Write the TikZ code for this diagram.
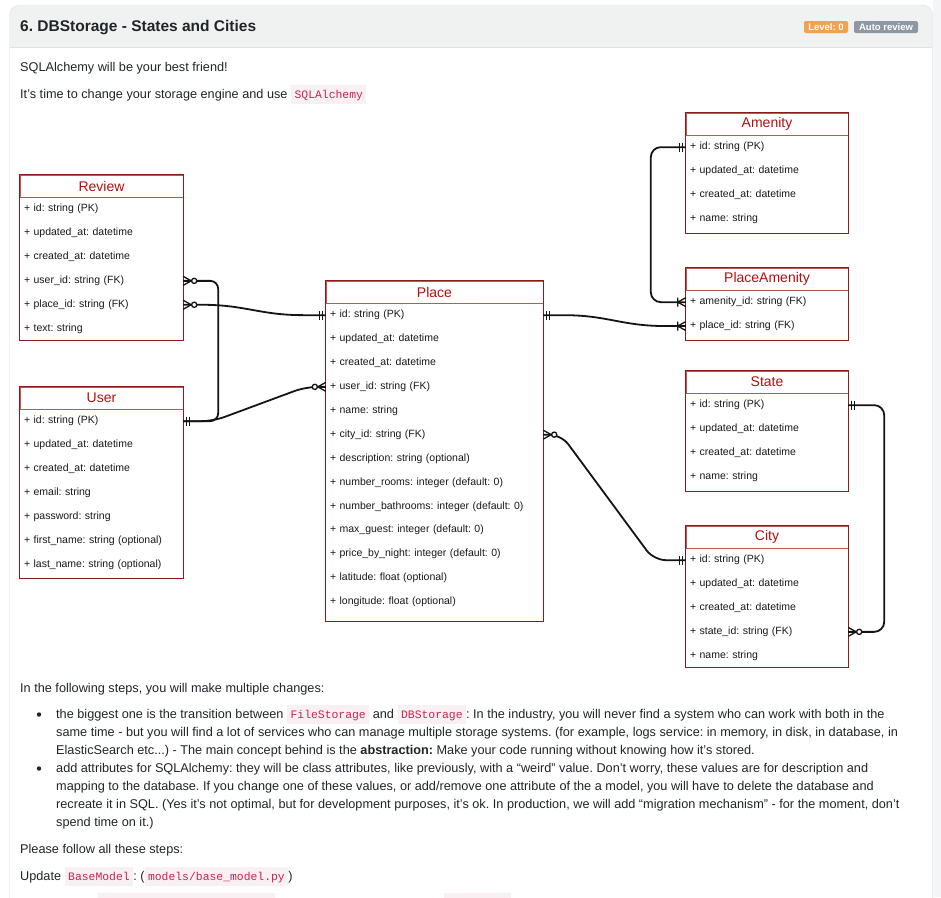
\documentclass[tikz,border=0pt]{standalone}
\usepackage{fontspec}
\setmainfont{Liberation Sans}
\newfontfamily\codefont{Liberation Mono}
\usetikzlibrary{positioning,fit,calc}
\frenchspacing

\definecolor{boxline}{RGB}{140,26,26}
\definecolor{sepline}{RGB}{196,84,84}
\definecolor{titlered}{RGB}{178,16,16}
\definecolor{rowtext}{RGB}{25,25,25}
\definecolor{linecol}{RGB}{20,20,20}
\definecolor{headgray}{RGB}{240,241,241}
\definecolor{cardline}{RGB}{224,226,228}
\definecolor{pagegray}{RGB}{244,245,246}
\definecolor{bodycol}{RGB}{33,37,41}
\definecolor{codebg}{RGB}{249,240,243}
\definecolor{codefg}{RGB}{199,37,78}
\definecolor{lvlorange}{RGB}{240,163,76}
\definecolor{autogray}{RGB}{142,152,163}

\newcommand{\inlinecode}[1]{{\setlength{\fboxsep}{0pt}\colorbox{codebg}{\rule[-5.5pt]{0pt}{19pt}\hspace{3.5pt}\textcolor{codefg}{\codefont\fontsize{11.4}{13}\selectfont #1}\hspace{3.5pt}}}}

\tikzset{
  entity/.style={draw=sepline, minimum width=#1, minimum height=22pt, inner sep=0pt,
    font=\fontsize{14}{16}\selectfont, text=titlered},
  attr/.style={minimum height=23.5pt, text width=#1, inner xsep=4pt, inner ysep=0pt,
    align=left, font=\fontsize{10.5}{12}\selectfont, text=rowtext},
  entframe/.style={draw=boxline, line width=0.9pt, inner sep=0pt},
  rel/.style={draw=linecol, line width=1.8pt},
  crow/.style={draw=linecol, line width=1.3pt},
  onlyone/.pic={\draw[crow] (3,-4.5) -- (3,4.5) (6,-4.5) -- (6,4.5);},
  zeromany/.pic={\draw[crow] (0,-4.5) -- (8,0) -- (0,4.5); \draw[crow, fill=white] (11,0) circle (2.6pt);},
  onemany/.pic={\draw[crow] (0,-4.5) -- (8,0) -- (0,4.5) (8,-4.5) -- (8,4.5);},
  bodytext/.style={anchor=base west, inner sep=0pt, font=\fontsize{12.7}{15}\selectfont, text=bodycol},
  bullet/.style={circle, fill=bodycol, inner sep=0pt, minimum size=4.4pt},
  badge/.style={fill=#1, rounded corners=2pt, text=white, font=\bfseries\fontsize{9.5}{11}\selectfont,
    minimum height=12pt, inner sep=0pt}
}

\begin{document}
\begin{tikzpicture}[x=1pt, y=-1pt]
    \useasboundingbox (0,0) rectangle (941,897);
    \clip (0,0) rectangle (941,897);

    % page and card
    \fill[white] (0,0) rectangle (941,897);
    \fill[pagegray] (933,0) rectangle (941,897);
    \draw[cardline, fill=headgray, rounded corners=10pt] (9.5,950) rectangle (932.5,5);
    \fill[white] (10,47.5) rectangle (932,950);
    \draw[cardline] (10,47.5) -- (932,47.5);

    \node[anchor=base west, inner sep=0pt, font=\bfseries\fontsize{15.5}{18}\selectfont, text=bodycol] (title) at (20,31.5) {6. DBStorage - States and Cities};
    \node[badge=lvlorange, minimum width=44pt] (level) at (826,27) {Level: 0};
    \node[badge=autogray, minimum width=64pt] (auto) at (886,27) {Auto review};

    \node[bodytext] (intro1) at (20,71.5) {SQLAlchemy will be your best friend!};
    \node[bodytext] (intro2) at (20,98.5) {It’s time to change your storage engine and use \inlinecode{SQLAlchemy}};

    % Review
    \node[entity=163pt] (revT) at (101.5,186) {Review};
    \node[attr=155pt, below=0pt of revT] (rev1) {+ id: string (PK)};
    \node[attr=155pt, below=0pt of rev1] (rev2) {+ updated\_at: datetime};
    \node[attr=155pt, below=0pt of rev2] (rev3) {+ created\_at: datetime};
    \node[attr=155pt, below=0pt of rev3] (rev4) {+ user\_id: string (FK)};
    \node[attr=155pt, below=0pt of rev4] (rev5) {+ place\_id: string (FK)};
    \node[attr=155pt, below=0pt of rev5] (rev6) {+ text: string};
    \node[entframe, fit=(revT)(rev6)] (review) {};

    % User
    \node[entity=163pt] (usrT) at (101.5,398) {User};
    \node[attr=155pt, below=0pt of usrT] (usr1) {+ id: string (PK)};
    \node[attr=155pt, below=0pt of usr1] (usr2) {+ updated\_at: datetime};
    \node[attr=155pt, below=0pt of usr2] (usr3) {+ created\_at: datetime};
    \node[attr=155pt, below=0pt of usr3] (usr4) {+ email: string};
    \node[attr=155pt, below=0pt of usr4] (usr5) {+ password: string};
    \node[attr=155pt, below=0pt of usr5] (usr6) {+ first\_name: string (optional)};
    \node[attr=155pt, below=0pt of usr6] (usr7) {+ last\_name: string (optional)};
    \coordinate (usrEnd) at ($(usr7.south)+(0,1.5)$);
    \node[entframe, fit=(usrT)(usr7)(usrEnd)] (user) {};

    % Place
    \node[entity=217pt] (plcT) at (434.5,292) {Place};
    \node[attr=209pt, below=0pt of plcT] (plc1) {+ id: string (PK)};
    \node[attr=209pt, below=0pt of plc1] (plc2) {+ updated\_at: datetime};
    \node[attr=209pt, below=0pt of plc2] (plc3) {+ created\_at: datetime};
    \node[attr=209pt, below=0pt of plc3] (plc4) {+ user\_id: string (FK)};
    \node[attr=209pt, below=0pt of plc4] (plc5) {+ name: string};
    \node[attr=209pt, below=0pt of plc5] (plc6) {+ city\_id: string (FK)};
    \node[attr=209pt, below=0pt of plc6] (plc7) {+ description: string (optional)};
    \node[attr=209pt, below=0pt of plc7] (plc8) {+ number\_rooms: integer (default: 0)};
    \node[attr=209pt, below=0pt of plc8] (plc9) {+ number\_bathrooms: integer (default: 0)};
    \node[attr=209pt, below=0pt of plc9] (plc10) {+ max\_guest: integer (default: 0)};
    \node[attr=209pt, below=0pt of plc10] (plc11) {+ price\_by\_night: integer (default: 0)};
    \node[attr=209pt, below=0pt of plc11] (plc12) {+ latitude: float (optional)};
    \node[attr=209pt, below=0pt of plc12] (plc13) {+ longitude: float (optional)};
    \coordinate (plcEnd) at ($(plc13.south)+(0,7.5)$);
    \node[entframe, fit=(plcT)(plc13)(plcEnd)] (place) {};

    % Amenity
    \node[entity=162pt] (amT) at (767,124) {Amenity};
    \node[attr=154pt, below=0pt of amT] (am1) {+ id: string (PK)};
    \node[attr=154pt, below=0pt of am1] (am2) {+ updated\_at: datetime};
    \node[attr=154pt, below=0pt of am2] (am3) {+ created\_at: datetime};
    \node[attr=154pt, below=0pt of am3] (am4) {+ name: string};
    \coordinate (amEnd) at ($(am4.south)+(0,3)$);
    \node[entframe, fit=(amT)(am4)(amEnd)] (amenity) {};

    % PlaceAmenity
    \node[entity=162pt] (paT) at (767,279) {PlaceAmenity};
    \node[attr=154pt, below=0pt of paT] (pa1) {+ amenity\_id: string (FK)};
    \node[attr=154pt, below=0pt of pa1] (pa2) {+ place\_id: string (FK)};
    \coordinate (paEnd) at ($(pa2.south)+(0,2)$);
    \node[entframe, fit=(paT)(pa2)(paEnd)] (placeamenity) {};

    % State
    \node[entity=162pt] (stT) at (767,382) {State};
    \node[attr=154pt, below=0pt of stT] (st1) {+ id: string (PK)};
    \node[attr=154pt, below=0pt of st1] (st2) {+ updated\_at: datetime};
    \node[attr=154pt, below=0pt of st2] (st3) {+ created\_at: datetime};
    \node[attr=154pt, below=0pt of st3] (st4) {+ name: string};
    \coordinate (stEnd) at ($(st4.south)+(0,3)$);
    \node[entframe, fit=(stT)(st4)(stEnd)] (state) {};

    % City
    \node[entity=162pt] (ctyT) at (767,537) {City};
    \node[attr=154pt, below=0pt of ctyT] (cty1) {+ id: string (PK)};
    \node[attr=154pt, below=0pt of cty1] (cty2) {+ updated\_at: datetime};
    \node[attr=154pt, below=0pt of cty2] (cty3) {+ created\_at: datetime};
    \node[attr=154pt, below=0pt of cty3] (cty4) {+ state\_id: string (FK)};
    \node[attr=154pt, below=0pt of cty4] (cty5) {+ name: string};
    \node[entframe, fit=(ctyT)(cty5)] (city) {};

    % relations
    \draw[rel, rounded corners=8pt] (usr1.east) -- ++(35,0) |- (rev4.east);
    \draw[rel, rounded corners=12pt] (usr1.east) -- ++(30,0) -- ($(plc4.west)+(-20,0)$) -- (plc4.west);
    \draw[rel] (rev5.east) -- ++(18,0) .. controls +(45,0) and +(-45,0) .. ($(plc1.west)+(-22,0)$) -- (plc1.west);
    \draw[rel] (plc1.east) -- ++(20,0) .. controls +(45,0) and +(-45,0) .. ($(pa2.west)+(-20,0)$) -- (pa2.west);
    \draw[rel, rounded corners=10pt] (am1.west) -- ++(-35,0) |- (pa1.west);
    \draw[rel, rounded corners=12pt] (plc6.east) -- ++(18,0) -- ($(cty1.west)+(-32,0)$) -- (cty1.west);
    \draw[rel, rounded corners=10pt] (st1.east) -- ++(36,0) |- (cty4.east);

    \pic at (rev4.east) {zeromany};
    \pic at (rev5.east) {zeromany};
    \pic at (usr1.east) {onlyone};
    \pic[xscale=-1] at (plc1.west) {onlyone};
    \pic[xscale=-1] at (plc4.west) {zeromany};
    \pic at (plc1.east) {onlyone};
    \pic at (plc6.east) {zeromany};
    \pic[xscale=-1] at (am1.west) {onlyone};
    \pic[xscale=-1] at (pa1.west) {onemany};
    \pic[xscale=-1] at (pa2.west) {onemany};
    \pic[xscale=-1] at (cty1.west) {onlyone};
    \pic at (st1.east) {onlyone};
    \pic at (cty4.east) {zeromany};

    % text below the diagram
    \node[bodytext] (steps) at (20,692.5) {In the following steps, you will make multiple changes:};
    \node[bullet] (dotA) at (39,714.5) {};
    \node[bodytext] (b1l1) at (56,718.5) {the biggest one is the transition between \inlinecode{FileStorage} and \inlinecode{DBStorage}: In the industry, you will never find a system who can work with both in the};
    \node[bodytext] (b1l2) at (56,736.5) {same time - but you will find a lot of services who can manage multiple storage systems. (for example, logs service: in memory, in disk, in database, in};
    \node[bodytext] (b1l3) at (56,754.5) {ElasticSearch etc...) - The main concept behind is the \textbf{abstraction:} Make your code running without knowing how it’s stored.};
    \node[bullet] (dotB) at (39,768.5) {};
    \node[bodytext] (b2l1) at (56,772.5) {add attributes for SQLAlchemy: they will be class attributes, like previously, with a “weird” value. Don’t worry, these values are for description and};
    \node[bodytext] (b2l2) at (56,790.5) {mapping to the database. If you change one of these values, or add/remove one attribute of the a model, you will have to delete the database and};
    \node[bodytext] (b2l3) at (56,808.5) {recreate it in SQL. (Yes it’s not optimal, but for development purposes, it’s ok. In production, we will add “migration mechanism” - for the moment, don’t};
    \node[bodytext] (b2l4) at (56,826.5) {spend time on it.)};
    \node[bodytext] (follow) at (20,853.5) {Please follow all these steps:};
    \node[bodytext] (update) at (20,880.5) {Update \inlinecode{BaseModel}: (\inlinecode{models/base\_model.py})};

    % next line, cut off by the page edge
    \fill[codebg] (98,893) rectangle (275,905);
    \fill[codebg] (444,893) rectangle (511,905);
\end{tikzpicture}
\end{document}
